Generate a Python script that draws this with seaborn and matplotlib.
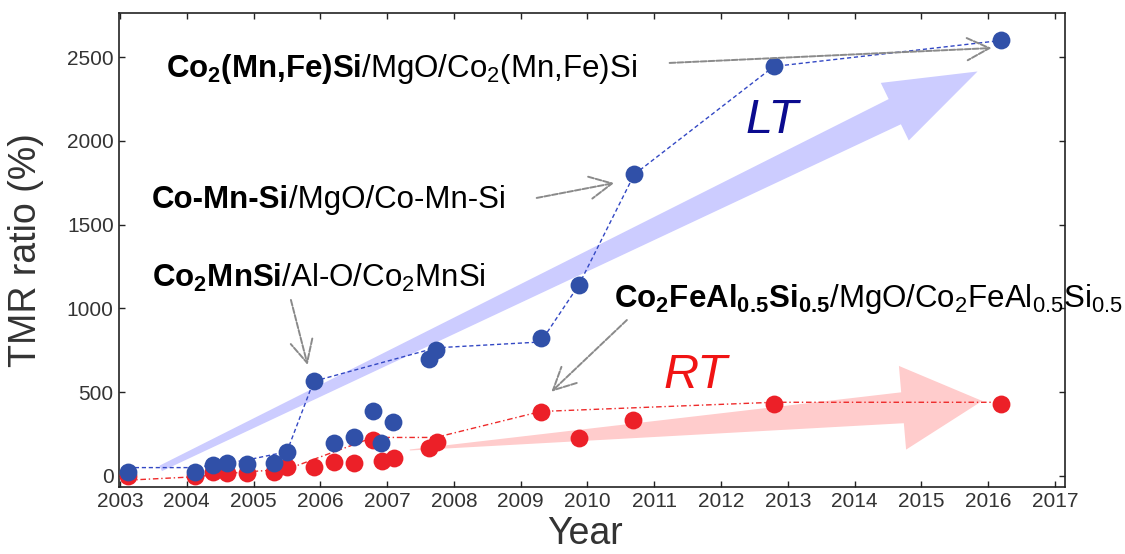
import numpy as np
import matplotlib
matplotlib.use("Agg")
import matplotlib.pyplot as plt
import seaborn as sns
from matplotlib.patches import Polygon

# ---- data -------------------------------------------------------------
# TMR ratios measured at low temperature (LT)
lt_year = [2003.12, 2004.12, 2004.40, 2004.60, 2004.90, 2005.30, 2005.50, 2005.90,
           2006.20, 2006.50, 2006.79, 2006.91, 2007.09, 2007.62, 2007.73, 2009.30,
           2009.87, 2010.70, 2012.79, 2016.19]
lt_tmr = [25, 25, 65, 78, 70, 75, 145, 565,
          195, 235, 385, 195, 320, 700, 755, 825,
          1140, 1800, 2445, 2600]

# TMR ratios measured at room temperature (RT)
rt_year = [2003.12, 2004.12, 2004.40, 2004.60, 2004.90, 2005.30, 2005.50, 2005.90,
           2006.20, 2006.50, 2006.79, 2006.92, 2007.10, 2007.62, 2007.75, 2009.30,
           2009.87, 2010.68, 2012.79, 2016.19]
rt_tmr = [0, 0, 25, 15, 20, 25, 55, 55,
          85, 75, 215, 90, 110, 165, 205, 380,
          225, 335, 430, 430]

# record-progress guide lines
lt_record_year = [2003.12, 2004.12, 2004.90, 2005.50, 2005.90, 2007.73, 2009.30,
                  2009.87, 2010.70, 2012.79, 2016.19]
lt_record_tmr = [50, 50, 95, 145, 565, 765, 800, 1140, 1800, 2445, 2600]
rt_record_year = [2003.12, 2004.12, 2004.90, 2005.50, 2006.79, 2007.73, 2009.30,
                  2012.79, 2016.19]
rt_record_tmr = [-25, -5, 25, 40, 230, 230, 385, 440, 440]

year_ticks = list(range(2003, 2018))
tmr_ticks = [0, 500, 1000, 1500, 2000, 2500]

# trend arrows: (tail, tip) in data units
lt_trend_tail, lt_trend_tip = (2003.61, 45), (2015.84, 2415)
rt_trend_tail, rt_trend_tip = (2007.34, 155), (2015.91, 448)

# ---- style ------------------------------------------------------------
sns.set_theme(style="ticks")
plt.rcParams["font.family"] = ["Liberation Sans", "DejaVu Sans"]
plt.rcParams["mathtext.fontset"] = "custom"
plt.rcParams["mathtext.rm"] = "Liberation Sans"
plt.rcParams["mathtext.bf"] = "Liberation Sans:bold"
plt.rcParams["mathtext.it"] = "Liberation Sans:italic"
plt.rcParams["mathtext.default"] = "regular"

BLUE = "#3050a8"
RED = "#ec2028"
BLUE_LINE = "#3348c4"
RED_LINE = "#ee2a2a"
TEXT = "#333333"

fig = plt.figure(figsize=(11.25, 5.54), dpi=100)
ax = fig.add_axes([0.1060, 0.1215, 0.8407, 0.8556])
ax.set_xlim(2002.99, 2017.15)
ax.set_ylim(-64, 2766)


def tapered_arrow(ax, tail, tip, w_tail, w_shaft, head_w, head_len, color):
    """Filled wedge-shaped arrow; widths are given in pixels."""
    tr = ax.transData
    p0 = tr.transform(tail)
    p1 = tr.transform(tip)
    d = p1 - p0
    u = d / np.hypot(*d)
    n = np.array([-u[1], u[0]])
    base = p1 - u * head_len
    pts = [p0 + n * w_tail / 2, base + n * w_shaft / 2, base + n * head_w / 2, p1,
           base - n * head_w / 2, base - n * w_shaft / 2, p0 - n * w_tail / 2]
    ax.add_patch(Polygon(tr.inverted().transform(pts), closed=True,
                         facecolor=color, edgecolor="none", zorder=1))


tapered_arrow(ax, lt_trend_tail, lt_trend_tip, 6, 28, 64, 92, "#ccccff")
tapered_arrow(ax, rt_trend_tail, rt_trend_tip, 1, 31, 84, 80, "#ffcccc")

# guide lines
sns.lineplot(x=rt_record_year, y=rt_record_tmr, sort=False, estimator=None, ax=ax,
             color=RED_LINE, lw=1.0, linestyle=(0, (4, 2, 1, 2)), zorder=2)
sns.lineplot(x=lt_record_year, y=lt_record_tmr, sort=False, estimator=None, ax=ax,
             color=BLUE_LINE, lw=1.0, linestyle=(0, (3, 2)), zorder=2)

# data points
sns.scatterplot(x=rt_year, y=rt_tmr, ax=ax, color=RED, s=165, linewidth=0, zorder=3)
sns.scatterplot(x=lt_year, y=lt_tmr, ax=ax, color=BLUE, s=165, linewidth=0, zorder=4)

# ---- labels -----------------------------------------------------------
LAB = 22.5
arrow_kw = dict(arrowstyle="->,head_length=0.8,head_width=0.4", color="#8a8a8a",
                lw=1.4, linestyle=(0, (3, 1)), mutation_scale=20,
                shrinkA=0, shrinkB=0)

ax.text(2003.69, 2382, r"$\mathbf{Co_2(Mn{,}Fe)Si}$/MgO/Co$_2$(Mn,Fe)Si",
        fontsize=LAB, va="baseline", ha="left", color="black", zorder=6)
ax.annotate("", xy=(2016.05, 2555), xytext=(2011.23, 2466), arrowprops=arrow_kw, zorder=5)

t_cms = ax.text(2003.48, 1600, "Co-Mn-Si", fontsize=LAB, fontweight="bold",
                va="baseline", ha="left", color="black", zorder=6)
ax.annotate("/MgO/Co-Mn-Si", xy=(1, 0), xycoords=t_cms, va="bottom", ha="left",
            fontsize=LAB, color="black", zorder=6)
ax.annotate("", xy=(2010.40, 1749), xytext=(2009.24, 1660), arrowprops=arrow_kw, zorder=5)

ax.text(2003.48, 1127, r"$\mathbf{Co_2MnSi}$/Al-O/Co$_2$MnSi",
        fontsize=LAB, va="baseline", ha="left", color="black", zorder=6)
ax.annotate("", xy=(2005.81, 663), xytext=(2005.56, 1051), arrowprops=arrow_kw, zorder=5)

ax.text(2010.40, 1010,
        r"$\mathbf{Co_2FeAl_{0.5}Si_{0.5}}$/MgO/Co$_2$FeAl$_{0.5}$Si$_{0.5}$",
        fontsize=LAB, va="baseline", ha="left", color="black", zorder=6, clip_on=False)
ax.annotate("", xy=(2009.46, 503), xytext=(2010.59, 931), arrowprops=arrow_kw, zorder=5)

ax.text(2012.77, 2048, "LT", fontsize=35, fontstyle="italic", color="#0b0b8f",
        ha="center", va="baseline", zorder=6)
ax.text(2011.61, 525, "RT", fontsize=35, fontstyle="italic", color="#f01414",
        ha="center", va="baseline", zorder=6)

# ---- axes -------------------------------------------------------------
ax.set_xticks(year_ticks)
ax.set_xticklabels([str(y) for y in year_ticks])
ax.set_yticks(tmr_ticks)
ax.set_yticklabels([str(v) for v in tmr_ticks])
ax.tick_params(axis="both", which="major", direction="in", length=4.5, width=1.0,
               top=True, right=True, labelsize=15, labelcolor=TEXT, color="#222222",
               pad=4)
for sp in ax.spines.values():
    sp.set_linewidth(1.2)
    sp.set_color("#222222")
    sp.set_visible(True)

ax.set_xlabel("Year", fontsize=27, color=TEXT)
ax.set_ylabel("TMR ratio (%)", fontsize=27, color=TEXT)
ax.xaxis.set_label_coords(0.492, -0.062)
ax.yaxis.set_label_coords(-0.08, 0.5)

fig.savefig("out.png", dpi=100)
